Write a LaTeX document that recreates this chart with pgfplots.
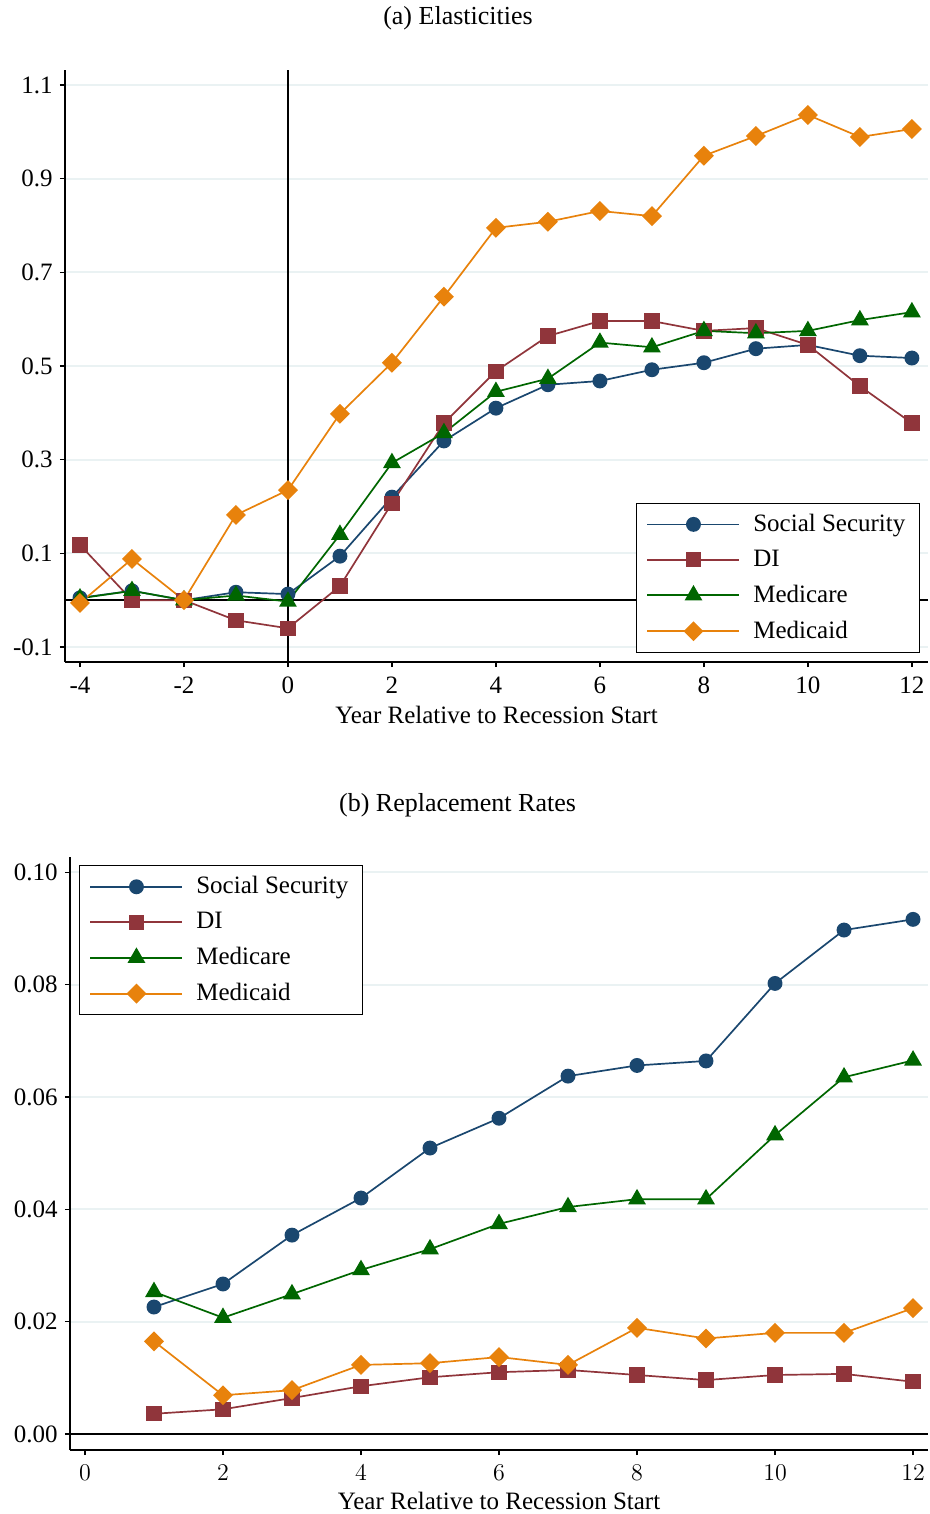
\documentclass[border=0pt]{standalone}
\usepackage{fontspec}
\setmainfont{Liberation Serif}
\usepackage{pgfplots}
\pgfplotsset{compat=1.18}
\definecolor{snavy}{RGB}{26,71,111}
\definecolor{smaroon}{RGB}{144,53,59}
\definecolor{sgreen}{RGB}{0,102,0}
\definecolor{sorange}{RGB}{232,130,12}
\definecolor{gridc}{RGB}{234,242,243}
\newcommand{\fs}{\fontsize{12.5}{14.5}\selectfont}
\pgfplotsset{
  stbase/.style={
    scale only axis,
    axis x line*=bottom, axis y line*=left,
    axis line style={black, line width=0.7pt, -},
    tick align=outside, major tick length=2.6pt,
    tick style={black, line width=0.65pt},
    ymajorgrids, major grid style={gridc, line width=1pt},
    tick label style={font=\fs},
    xticklabel style={yshift=-1.5pt},
    label style={font=\fs},
    legend style={font=\fs, draw=black, line width=0.6pt, inner xsep=5pt, inner ysep=3.5pt, row sep=3.8pt, column sep=4.5pt},
    legend cell align=left,
    legend image code/.code={\draw[mark repeat=2,mark phase=2] plot coordinates {(0pt,0pt) (23pt,0pt) (46pt,0pt)};},
  },
  ss/.style={snavy, line width=0.85pt, mark=*, mark size=3.3pt, mark options={solid, fill=snavy}},
  di/.style={smaroon, line width=0.85pt, mark=square*, mark size=3.4pt, mark options={solid, fill=smaroon}},
  mc/.style={sgreen, line width=0.85pt, mark=triangle*, mark size=4.3pt, mark options={solid, fill=sgreen}},
  md/.style={sorange, line width=0.85pt, mark=square*, mark size=3.1pt, mark options={solid, fill=sorange, rotate=45}},
}
\begin{document}
\begin{tikzpicture}
\useasboundingbox (0,0) rectangle (465pt,-757pt);
\node[font=\fontsize{13}{15}\selectfont] at (229pt,-9pt) {(a) Elasticities};
\node[font=\fontsize{13}{15}\selectfont] at (228.75pt,-402.5pt) {(b) Replacement Rates};
% Panel (a)
\begin{axis}[stbase,
  at={(32.5pt,-331pt)}, anchor=south west,
  width=431.5pt, height=296pt,
  xmin=-4.288, xmax=12.31, ymin=-0.132, ymax=1.132,
  xtick={-4,-2,0,2,4,6,8,10,12},
  xticklabels={-4,-2,0,2,4,6,8,10,12},
  ytick={-0.1,0.1,0.3,0.5,0.7,0.9,1.1},
  yticklabels={-0.1,0.1,0.3,0.5,0.7,0.9,1.1},
  xlabel={Year Relative to Recession Start},
  xlabel style={yshift=1pt},
  legend style={at={(0.9907,0.0152)}, anchor=south east},
]
\draw[black, line width=0.75pt] (axis cs:-4.288,0) -- (axis cs:12.31,0);
\draw[black, line width=0.75pt] (axis cs:0,-0.132) -- (axis cs:0,1.132);
\addplot[ss] coordinates {(-4,0.005) (-3,0.02) (-2,0) (-1,0.017) (0,0.013) (1,0.094) (2,0.22) (3,0.34) (4,0.41) (5,0.46) (6,0.468) (7,0.492) (8,0.507) (9,0.537) (10,0.545) (11,0.522) (12,0.517)};
\addlegendentry{Social Security}
\addplot[di] coordinates {(-4,0.118) (-3,0.0) (-2,0) (-1,-0.043) (0,-0.06) (1,0.03) (2,0.207) (3,0.378) (4,0.489) (5,0.564) (6,0.596) (7,0.596) (8,0.575) (9,0.581) (10,0.545) (11,0.457) (12,0.378)};
\addlegendentry{DI}
\addplot[mc] coordinates {(-4,0.004) (-3,0.02) (-2,0) (-1,0.01) (0,-0.003) (1,0.14) (2,0.293) (3,0.357) (4,0.445) (5,0.473) (6,0.55) (7,0.54) (8,0.575) (9,0.57) (10,0.575) (11,0.598) (12,0.615)};
\addlegendentry{Medicare}
\addplot[md] coordinates {(-4,-0.006) (-3,0.088) (-2,0) (-1,0.182) (0,0.235) (1,0.398) (2,0.507) (3,0.648) (4,0.795) (5,0.808) (6,0.831) (7,0.82) (8,0.949) (9,0.991) (10,1.036) (11,0.989) (12,1.006)};
\addlegendentry{Medicaid}
\end{axis}
% Panel (b)
\begin{axis}[stbase,
  at={(35pt,-725pt)}, anchor=south west,
  width=429pt, height=296.5pt,
  xmin=-0.217, xmax=12.217, ymin=-0.00285, ymax=0.1027,
  xtick={0,2,4,6,8,10,12},
  ytick={0,0.02,0.04,0.06,0.08,0.1},
  yticklabels={0.00,0.02,0.04,0.06,0.08,0.10},
  xlabel={Year Relative to Recession Start},
  xlabel style={yshift=1pt},
  legend style={at={(0.0105,0.9865)}, anchor=north west},
]
\draw[black, line width=0.75pt] (axis cs:-0.217,0) -- (axis cs:12.217,0);
\addplot[ss] coordinates {(1,0.0226) (2,0.0267) (3,0.0354) (4,0.042) (5,0.0509) (6,0.0562) (7,0.0637) (8,0.0656) (9,0.0664) (10,0.0802) (11,0.0897) (12,0.0916)};
\addlegendentry{Social Security}
\addplot[di] coordinates {(1,0.0036) (2,0.0044) (3,0.0064) (4,0.0085) (5,0.0101) (6,0.011) (7,0.0114) (8,0.0105) (9,0.0096) (10,0.0105) (11,0.0107) (12,0.0093)};
\addlegendentry{DI}
\addplot[mc] coordinates {(1,0.0253) (2,0.0207) (3,0.0249) (4,0.0292) (5,0.0329) (6,0.0374) (7,0.0404) (8,0.0418) (9,0.0418) (10,0.0532) (11,0.0635) (12,0.0665)};
\addlegendentry{Medicare}
\addplot[md] coordinates {(1,0.0165) (2,0.0069) (3,0.0078) (4,0.0123) (5,0.0126) (6,0.0137) (7,0.0123) (8,0.0189) (9,0.017) (10,0.018) (11,0.018) (12,0.0224)};
\addlegendentry{Medicaid}
\end{axis}
\end{tikzpicture}
\end{document}
